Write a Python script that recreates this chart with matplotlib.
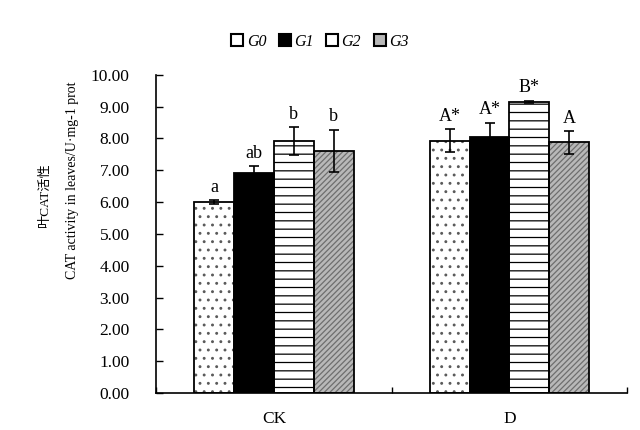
import numpy as np
import matplotlib
matplotlib.use("Agg")
from matplotlib import pyplot as plt
from matplotlib.patches import Patch

# datos
grupos = ["CK", "D"]
series = ["G0", "G1", "G2", "G3"]
G0 = [6.00, 7.93]
G1 = [6.90, 8.06]
G2 = [7.92, 9.16]
G3 = [7.62, 7.88]
err_G0 = [0.07, 0.36]
err_G1 = [0.22, 0.44]
err_G2 = [0.44, 0.03]
err_G3 = [0.66, 0.36]
letras_G0 = ["a", "A*"]
letras_G1 = ["ab", "A*"]
letras_G2 = ["b", "B*"]
letras_G3 = ["b", "A"]

valores = [G0, G1, G2, G3]
errores = [err_G0, err_G1, err_G2, err_G3]
letras = [letras_G0, letras_G1, letras_G2, letras_G3]

# estilos de las barras
caras = ["white", "black", "white", "#b8b8b8"]
tramas = ["..", None, "--", "//////"]
color_trama = ["#5a5a5a", "black", "black", "#6e6e6e"]

plt.rcParams["font.family"] = ["Liberation Serif", "Noto Sans CJK SC"]
plt.rcParams["hatch.linewidth"] = 0.9

fig = plt.figure(figsize=(6.4, 4.3), dpi=100)
ax = fig.add_axes([0.244, 0.086, 0.736, 0.740])

x = np.arange(len(grupos))
ancho = 0.169
for i in range(len(series)):
    pos = x + (i - 1.5) * ancho
    # relleno + trama
    ax.bar(pos, valores[i], ancho, color=caras[i], edgecolor=color_trama[i],
           hatch=tramas[i], linewidth=0, zorder=2)
    # borde negro
    ax.bar(pos, valores[i], ancho, fill=False, edgecolor="black", linewidth=1.3, zorder=3)
    ax.errorbar(pos, valores[i], yerr=errores[i], fmt="none", ecolor="black",
                elinewidth=1.2, capsize=3.5, capthick=1.2, zorder=4)
    for j in range(len(grupos)):
        ax.annotate(letras[i][j], (pos[j], valores[i][j] + errores[i][j]),
                    xytext=(0, 3), textcoords="offset points",
                    ha="center", va="bottom", fontsize=13)

ax.set_xlim(-0.5, 1.5)
ax.set_ylim(0, 10)
ax.set_yticks(np.arange(0, 11, 1))
ax.set_yticklabels(["%.2f" % v for v in np.arange(0, 11, 1)], fontsize=12.5)
ax.tick_params(axis="y", direction="in", length=5, width=1, pad=19)
ax.set_xticks(x)
ax.set_xticklabels(grupos, fontsize=12.5)
ax.tick_params(axis="x", length=0, pad=13)
ax.set_xticks([-0.5, 0.5, 1.5], minor=True)
ax.tick_params(axis="x", which="minor", direction="in", length=4, width=1)
for s in ["top", "right"]:
    ax.spines[s].set_visible(False)
ax.spines["left"].set_linewidth(1.2)
ax.spines["bottom"].set_linewidth(1.2)

fig.text(0.071, 0.544, "叶CAT活性", rotation=90, ha="center", va="center", fontsize=9.5)
fig.text(0.113, 0.581, "CAT activity in leaves/U·mg-1 prot", rotation=90,
         ha="center", va="center", fontsize=10)

manijas = [Patch(facecolor=caras[i], edgecolor="black", hatch=None, linewidth=1.5)
           for i in range(len(series))]
fig.legend(manijas, series, loc="center", bbox_to_anchor=(0.50, 0.903), ncol=4,
           frameon=False, handlelength=0.75, handleheight=0.75, handletextpad=0.2,
           columnspacing=0.8, prop={"style": "italic", "size": 11.5})

fig.savefig("out.png", dpi=100)
